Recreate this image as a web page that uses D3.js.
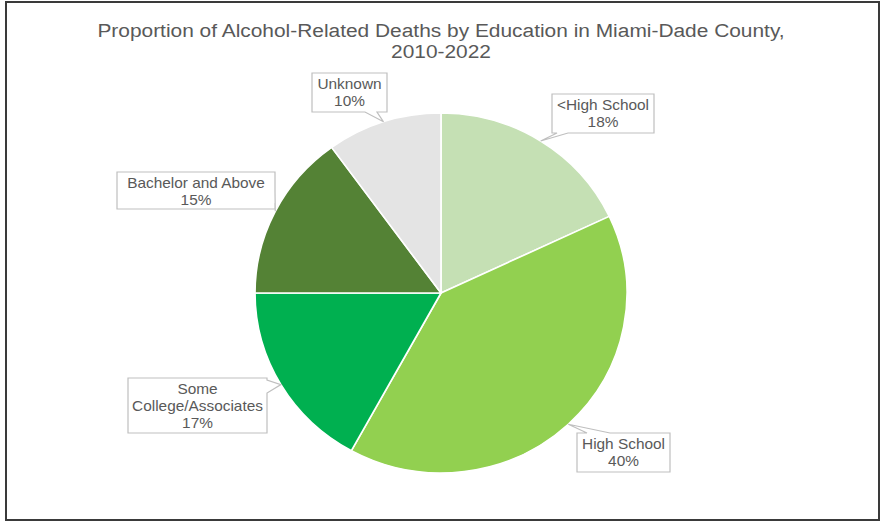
<!DOCTYPE html>
<html>
<head>
<meta charset="utf-8">
<script src="https://cdn.jsdelivr.net/npm/d3@7"></script>
<style>
  html, body { margin: 0; padding: 0; background: #fff; }
  svg { display: block; }
  text { font-family: "Liberation Sans", Arial, sans-serif; fill: #595959; }
</style>
</head>
<body>
<svg id="chart" width="882" height="523"></svg>
<script>
// Education categories and their share of alcohol-related deaths (%)
const categories = ["<High School", "High School", "Some College/Associates", "Bachelor and Above", "Unknown"];
const values = [18, 40, 17, 15, 10];
const labelLines = [["<High School"], ["High School"], ["Some", "College/Associates"], ["Bachelor and Above"], ["Unknown"]];
const titleLines = ["Proportion of Alcohol-Related Deaths by Education in Miami-Dade County,", "2010-2022"];

// Slice colours, one per category
const palette = ["#C5E0B4", "#92D050", "#00B050", "#548235", "#E4E4E4"];

// Callout boxes: box rect, the side the pointer leaves from, and the pointer base span on that side
const callouts = [
  { box: [552, 94, 102, 39], side: "bottom", base: [557, 568] },
  { box: [577, 433, 93, 39], side: "top", base: [587, 610] },
  { box: [128, 378, 139, 55], side: "right", base: [380, 393] },
  { box: [117, 172, 158, 37], side: "right", base: [192, 203] },
  { box: [312, 73, 75, 39], side: "bottom", base: [365, 377] }
];

const W = 882, H = 523;
const cx = 441, cy = 293, rx = 186, ry = 180;
const stretch = 1.1; // text is drawn slightly wide

const svg = d3.select("#chart");

// Outer frame
svg.append("rect")
  .attr("x", 6).attr("y", 2).attr("width", 873).attr("height", 518)
  .attr("fill", "#fff").attr("stroke", "#3a3a3a").attr("stroke-width", 2);

// Title
svg.append("g").selectAll("text").data(titleLines).join("text")
  .attr("transform", (d, i) => `translate(${cx},${37 + i * 21}) scale(${stretch},1)`)
  .attr("text-anchor", "middle")
  .style("font-size", "19px")
  .text(d => d);

const data = categories.map((c, i) => ({ category: c, value: values[i], index: i }));

const pie = d3.pie().sort(null).value(d => d.value);
const arcs = pie(data);
const arc = d3.arc().innerRadius(0).outerRadius(ry);

const color = d3.scaleOrdinal().domain(categories).range(palette);

// Pie, stretched slightly wider than tall
const g = svg.append("g").attr("transform", `translate(${cx},${cy}) scale(${rx / ry},1)`);
g.selectAll("path").data(arcs).join("path")
  .attr("d", arc)
  .attr("fill", d => color(d.data.category))
  .attr("stroke", "#fff")
  .attr("stroke-width", 1.6)
  .attr("stroke-linejoin", "round");

// Pointer tip: slice mid-angle on the pie rim
function tipOf(a) {
  const m = (a.startAngle + a.endAngle) / 2;
  return [cx + rx * Math.sin(m), cy - ry * Math.cos(m)];
}

// Callout outline with a wedge pointer inserted in the chosen side
function calloutPath(c, tip) {
  const [x, y, w, h] = c.box;
  const [b0, b1] = c.base;
  const t = tip.join(",");
  const p = [`M${x},${y}`];
  if (c.side === "top") p.push(`L${b0},${y}`, `L${t}`, `L${b1},${y}`);
  p.push(`L${x + w},${y}`);
  if (c.side === "right") p.push(`L${x + w},${b0}`, `L${t}`, `L${x + w},${b1}`);
  p.push(`L${x + w},${y + h}`);
  if (c.side === "bottom") p.push(`L${b1},${y + h}`, `L${t}`, `L${b0},${y + h}`);
  p.push(`L${x},${y + h}`);
  if (c.side === "left") p.push(`L${x},${b1}`, `L${t}`, `L${x},${b0}`);
  p.push("Z");
  return p.join(" ");
}

const labels = svg.append("g").selectAll("g").data(arcs).join("g");

labels.append("path")
  .attr("d", d => calloutPath(callouts[d.index], tipOf(d)))
  .attr("fill", "#fff")
  .attr("stroke", "#BFBFBF")
  .attr("stroke-width", 1.2)
  .attr("stroke-linejoin", "miter");

labels.each(function (d) {
  const c = callouts[d.index];
  const [x, y, w] = c.box;
  const lines = labelLines[d.index].concat([d.data.value + "%"]);
  d3.select(this).selectAll("text").data(lines).join("text")
    .attr("transform", (s, i) => `translate(${x + w / 2},${y + 16.3 + i * 16.6}) scale(${stretch},1)`)
    .attr("text-anchor", "middle")
    .style("font-size", "14px")
    .text(s => s);
});
</script>
</body>
</html>
